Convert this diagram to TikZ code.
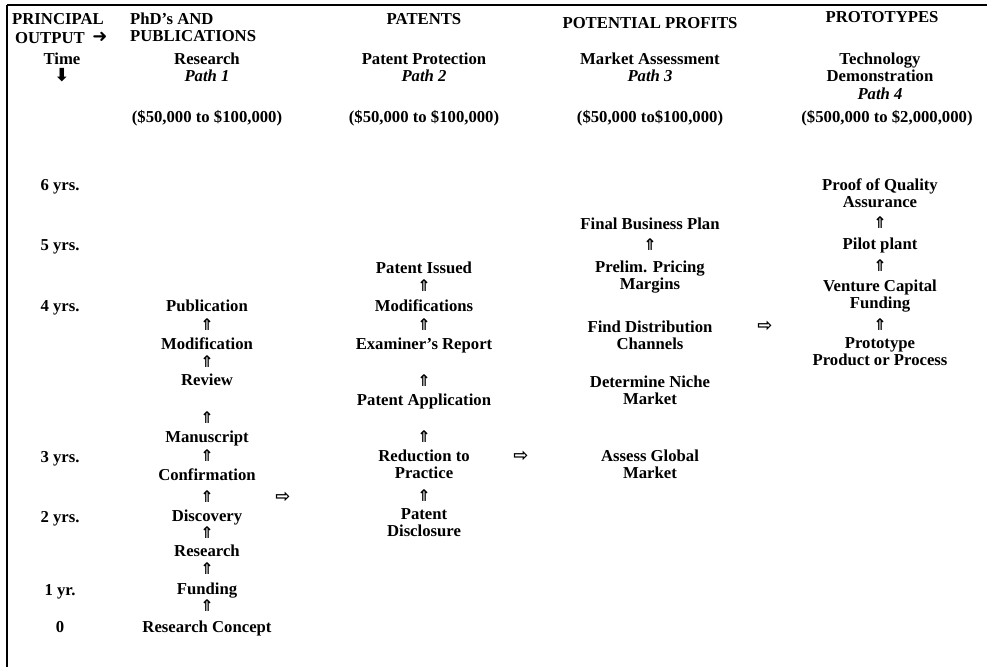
\documentclass[tikz,border=0pt]{standalone}
\usepackage{fontspec}
\setmainfont{Liberation Serif}
\newfontfamily\dvsans{DejaVu Sans}
\begin{document}
\begin{tikzpicture}[x=1pt,y=-1pt,
  txt/.style={inner sep=0pt, anchor=north, yshift=6.75pt, align=center,
    font=\fontsize{16.7}{17.5}\selectfont\bfseries, execute at begin node=\strut},
  ltxt/.style={txt, anchor=north west, align=left},
  uparr/.style={inner sep=0pt, font=\dvsans\fontsize{16}{17}\selectfont\bfseries},
  rtarr/.style={inner sep=0pt, font=\dvsans\fontsize{18}{19}\selectfont\bfseries},
  hdarr/.style={inner sep=0pt, font=\dvsans\fontsize{18}{19}\selectfont\bfseries},
  frame/.style={draw=black}
]
\useasboundingbox (0,0) rectangle (987,667);
% frame lines
\coordinate (tl) at (7,5);
\coordinate (tr) at (987,5);
\coordinate (bl) at (7,667);
\draw[frame, line width=2.2pt] (tl) -- (tr);
\draw[frame, line width=1.4pt] (tl) -- (bl);

% header row
\node[ltxt] (principal) at (12,19) {PRINCIPAL};
\node[ltxt] (output) at (15,38) {OUTPUT};
\node[hdarr] (outarr) at (100,37) {➜};
\node[ltxt] (phd) at (130,19) {PhD’s AND\\PUBLICATIONS};
\node[txt] (patents) at (424,19) {PATENTS};
\node[txt] (profits) at (650,23) {POTENTIAL PROFITS};
\node[txt] (prototypes) at (882,17) {PROTOTYPES};

% second row
\node[txt] (time) at (62,59) {Time};
\node[hdarr] (timearr) at (62,75) {⬇};
\node[txt] (p1) at (207,59) {Research\\\textit{Path 1}};
\node[txt] (p2) at (424,59) {Patent Protection\\\textit{Path 2}};
\node[txt] (p3) at (650,59) {Market Assessment\\\textit{Path 3}};
\node[txt] (p4) at (880,59) {Technology\\Demonstration\\\textit{Path 4}};

% cost row
\node[txt] (c1) at (207,117) {(\$50,000 to \$100,000)};
\node[txt] (c2) at (424,117) {(\$50,000 to \$100,000)};
\node[txt] (c3) at (650,117) {(\$50,000 to\$100,000)};
\node[txt] (c4) at (887,117) {(\$500,000 to \$2,000,000)};

% time labels
\node[txt] (t6) at (60,185) {6 yrs.};
\node[txt] (t5) at (60,245) {5 yrs.};
\node[txt] (t4) at (60,306) {4 yrs.};
\node[txt] (t3) at (60,457) {3 yrs.};
\node[txt] (t2) at (60,517) {2 yrs.};
\node[txt] (t1) at (60,590) {1 yr.};
\node[txt] (t0) at (60,627) {0};

% path 1
\node[txt] (a1) at (207,306) {Publication};
\node[uparr] (a1u) at (207,325) {⇑};
\node[txt] (a2) at (207,344) {Modification};
\node[uparr] (a2u) at (207,362) {⇑};
\node[txt] (a3) at (207,380) {Review};
\node[uparr] (a3u) at (207,418) {⇑};
\node[txt] (a4) at (207,437) {Manuscript};
\node[uparr] (a4u) at (207,456) {⇑};
\node[txt] (a5) at (207,475) {Confirmation};
\node[uparr] (a5u) at (207,497) {⇑};
\node[txt] (a6) at (207,516) {Discovery};
\node[uparr] (a6u) at (207,533) {⇑};
\node[txt] (a7) at (207,551) {Research};
\node[uparr] (a7u) at (207,569) {⇑};
\node[txt] (a8) at (207,589) {Funding};
\node[uparr] (a8u) at (207,606) {⇑};
\node[txt] (a9) at (207,627) {Research Concept};

% path 2
\node[txt] (b1) at (424,268) {Patent Issued};
\node[uparr] (b1u) at (424,286) {⇑};
\node[txt] (b2) at (424,306) {Modifications};
\node[uparr] (b2u) at (424,325) {⇑};
\node[txt] (b3) at (424,344) {Examiner’s Report};
\node[uparr] (b3u) at (424,381) {⇑};
\node[txt] (b4) at (424,400) {Patent Application};
\node[uparr] (b4u) at (424,437) {⇑};
\node[txt] (b5) at (424,456) {Reduction to\\Practice};
\node[uparr] (b5u) at (424,496) {⇑};
\node[txt] (b6) at (424,515) {Patent\\Disclosure};

% path 3
\node[txt] (m1) at (650,224) {Final Business Plan};
\node[uparr] (m1u) at (650,245) {⇑};
\node[txt] (m2) at (650,267) {Prelim. Pricing\\Margins};
\node[txt] (m3) at (650,327) {Find Distribution\\Channels};
\node[txt] (m4) at (650,382) {Determine Niche\\Market};
\node[txt] (m5) at (650,456) {Assess Global\\Market};

% path 4
\node[txt] (d1) at (880,185) {Proof of Quality\\Assurance};
\node[uparr] (d1u) at (880,223) {⇑};
\node[txt] (d2) at (880,244) {Pilot plant};
\node[uparr] (d2u) at (880,266) {⇑};
\node[txt] (d3) at (880,286) {Venture Capital\\Funding};
\node[uparr] (d3u) at (880,325) {⇑};
\node[txt] (d4) at (880,344) {Prototype\\Product or Process};

% transfers between paths
\node[rtarr] (x12) at (283,497) {⇨};
\node[rtarr] (x23) at (521,456) {⇨};
\node[rtarr] (x34) at (765,326) {⇨};
\end{tikzpicture}
\end{document}
